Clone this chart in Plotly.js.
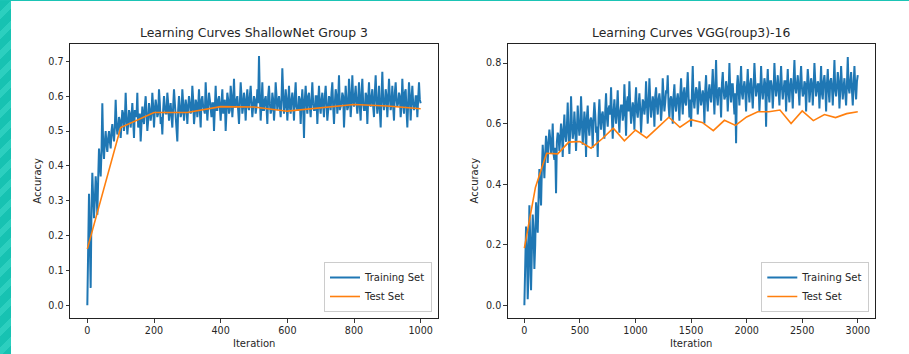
<!DOCTYPE html>
<html>
<head>
<meta charset="utf-8">
<script src="https://cdn.plot.ly/plotly-3.0.1.min.js"></script>
<style>
  html, body { margin: 0; padding: 0; width: 909px; height: 354px; overflow: hidden; background: #ffffff; }
  #stripeL { position: absolute; left: 0; top: 0; width: 11px; height: 354px;
    background: repeating-linear-gradient(135deg, #17c2b2 0px, #17c2b2 8px, #2ccfbf 8px, #2ccfbf 14px); }
  #stripeT { position: absolute; left: 0; top: 0; width: 909px; height: 1px; background: #1bc4b5; }
  #chart { position: absolute; left: 0; top: 0; width: 909px; height: 354px; }
</style>
</head>
<body>
<div id="stripeL"></div>
<div id="stripeT"></div>
<div id="chart"></div>
<script>
// ---------- Data ----------
const titleLeft = "Learning Curves ShallowNet Group 3";
const titleRight = "Learning Curves VGG(roup3)-16";
const xLabel = "Iteration";
const yLabel = "Accuracy";
const seriesNames = ["Training Set", "Test Set"];

// ShallowNet: training accuracy read at iterations 0,5,10,...,1000
const shallowTrainStep = 5;
const shallowTrain = [
  0.00,0.32,0.05,0.38,0.25,0.37,0.26,0.45,0.37,0.58,0.42,0.50,0.44,0.50,0.45,0.52,0.47,0.59,0.49,0.54,0.48,
  0.56,0.50,0.61,0.49,0.56,0.51,0.58,0.48,0.55,0.61,0.52,0.47,0.57,0.52,0.60,0.50,0.58,0.53,0.61,0.51,
  0.59,0.54,0.62,0.52,0.49,0.60,0.55,0.61,0.53,0.58,0.51,0.62,0.55,0.47,0.60,0.54,0.62,0.53,0.59,0.52,
  0.60,0.55,0.63,0.52,0.59,0.54,0.62,0.51,0.60,0.56,0.64,0.53,0.61,0.55,0.58,0.50,0.63,0.56,0.60,0.53,
  0.62,0.57,0.50,0.61,0.55,0.63,0.54,0.65,0.57,0.60,0.52,0.64,0.55,0.61,0.53,0.62,0.56,0.63,0.54,0.60,
  0.55,0.62,0.715,0.53,0.64,0.56,0.60,0.52,0.63,0.55,0.61,0.53,0.64,0.56,0.60,0.54,0.68,0.55,0.62,0.53,
  0.63,0.55,0.61,0.53,0.64,0.56,0.60,0.52,0.62,0.48,0.63,0.55,0.61,0.54,0.64,0.56,0.60,0.52,0.63,0.55,
  0.61,0.54,0.63,0.53,0.60,0.56,0.64,0.52,0.62,0.55,0.66,0.57,0.61,0.51,0.63,0.56,0.65,0.54,0.66,0.57,
  0.63,0.55,0.64,0.53,0.65,0.56,0.61,0.52,0.64,0.57,0.62,0.54,0.66,0.55,0.63,0.51,0.67,0.56,0.62,0.54,
  0.65,0.56,0.63,0.53,0.64,0.57,0.61,0.54,0.65,0.55,0.62,0.51,0.64,0.53,0.63,0.56,0.60,0.54,0.64,0.58
];
// ShallowNet: training accuracy read at the in-between iterations 2.5,7.5,...,997.5
const shallowTrainMid = [
  0.20,0.18,0.28,0.31,0.30,0.33,0.36,0.41,0.44,0.46,0.47,0.46,0.48,0.47,0.50,0.49,0.51,0.52,0.51,0.53,
  0.52,0.55,0.53,0.54,0.52,0.55,0.54,0.53,0.56,0.54,0.51,0.55,0.56,0.54,0.57,0.55,0.53,0.56,0.55,0.57,
  0.56,0.57,0.55,0.58,0.54,0.56,0.57,0.55,0.58,0.56,0.54,0.57,0.58,0.52,0.56,0.57,0.55,0.58,0.56,0.57,
  0.57,0.58,0.56,0.59,0.55,0.58,0.57,0.56,0.59,0.57,0.55,0.58,0.57,0.59,0.54,0.58,0.57,0.56,0.59,0.57,
  0.58,0.55,0.59,0.57,0.59,0.56,0.60,0.58,0.57,0.59,0.56,0.58,0.60,0.57,0.58,0.59,0.57,0.60,0.58,0.57,
  0.59,0.57,0.58,0.60,0.58,0.56,0.59,0.57,0.60,0.58,0.56,0.59,0.57,0.60,0.58,0.57,0.59,0.61,0.57,0.59,
  0.58,0.57,0.59,0.58,0.60,0.57,0.56,0.59,0.58,0.57,0.59,0.58,0.60,0.57,0.59,0.58,0.56,0.60,0.58,0.57,
  0.59,0.57,0.60,0.58,0.56,0.59,0.61,0.57,0.58,0.60,0.59,0.56,0.58,0.60,0.58,0.59,0.57,0.61,0.58,0.59,
  0.60,0.58,0.59,0.57,0.61,0.58,0.56,0.60,0.59,0.58,0.60,0.57,0.61,0.59,0.58,0.56,0.60,0.59,0.58,0.60,
  0.59,0.60,0.58,0.57,0.61,0.59,0.58,0.60,0.57,0.59,0.61,0.56,0.58,0.60,0.59,0.58,0.57,0.60,0.59,0.59
];
// ShallowNet: test accuracy every 100 iterations
const shallowTestIter = [0,100,200,300,400,500,600,700,800,900,1000];
const shallowTest = [0.162,0.510,0.553,0.553,0.570,0.569,0.557,0.567,0.576,0.572,0.564];

// VGG-16: training accuracy read at iterations 0,15,30,...,3000
const vggTrainStep = 15;
const vggTrain = [
  0.00,0.26,0.02,0.33,0.05,0.30,0.12,0.34,0.24,0.45,0.33,0.53,0.42,0.56,
  0.47,0.58,0.50,0.60,0.48,0.37,0.57,0.51,0.60,0.49,0.63,0.54,0.67,0.50,0.69,0.55,0.64,0.51,0.66,0.56,
  0.69,0.53,0.64,0.49,0.66,0.56,0.62,0.52,0.67,0.57,0.49,0.68,0.58,0.64,0.55,0.70,0.59,0.66,0.72,0.55,
  0.68,0.60,0.71,0.57,0.66,0.61,0.73,0.56,0.69,0.74,0.60,0.67,0.58,0.72,0.62,0.70,0.57,0.68,0.63,0.74,
  0.60,0.75,0.62,0.69,0.59,0.72,0.63,0.70,0.61,0.75,0.64,0.71,0.76,0.62,0.69,0.60,0.73,0.64,0.70,0.61,
  0.75,0.63,0.72,0.66,0.77,0.62,0.59,0.79,0.65,0.72,0.63,0.74,0.66,0.71,0.60,0.76,0.64,0.73,0.67,0.78,
  0.63,0.81,0.66,0.72,0.62,0.77,0.68,0.74,0.64,0.80,0.67,0.73,0.63,0.535,0.76,0.66,0.79,0.68,0.74,0.64,
  0.78,0.67,0.75,0.65,0.80,0.69,0.73,0.64,0.79,0.68,0.75,0.59,0.78,0.67,0.74,0.65,0.80,0.69,0.76,0.66,
  0.79,0.68,0.74,0.64,0.78,0.67,0.75,0.65,0.81,0.70,0.76,0.66,0.79,0.69,0.74,0.64,0.78,0.67,0.75,0.66,
  0.80,0.69,0.74,0.65,0.79,0.68,0.76,0.64,0.78,0.67,0.75,0.66,0.81,0.69,0.77,0.65,0.79,0.68,0.75,0.66,
  0.82,0.70,0.77,0.66,0.79,0.68,0.76
];
// VGG-16: training accuracy read at the in-between iterations 7.5,22.5,...,2992.5
const vggTrainMid = [
  0.15,0.20,0.10,0.22,0.18,0.25,0.20,0.30,0.35,0.38,0.45,0.48,0.50,
  0.52,0.54,0.55,0.53,0.50,0.52,0.54,0.56,0.55,0.57,0.58,0.56,0.59,0.57,0.58,0.60,0.57,0.59,0.58,0.60,
  0.59,0.61,0.58,0.60,0.62,0.59,0.61,0.60,0.62,0.63,0.59,0.62,0.61,0.63,0.60,0.64,0.62,0.65,0.63,0.62,
  0.64,0.63,0.65,0.62,0.64,0.66,0.63,0.65,0.67,0.64,0.66,0.63,0.65,0.67,0.64,0.66,0.65,0.63,0.67,0.66,
  0.67,0.66,0.68,0.65,0.67,0.69,0.66,0.68,0.67,0.65,0.69,0.67,0.70,0.66,0.68,0.67,0.69,0.66,0.68,0.67,
  0.69,0.68,0.70,0.67,0.71,0.69,0.68,0.70,0.68,0.69,0.71,0.67,0.70,0.68,0.69,0.71,0.68,0.70,0.69,0.72,
  0.70,0.72,0.69,0.71,0.70,0.73,0.71,0.69,0.72,0.70,0.71,0.73,0.68,0.70,0.72,0.71,0.73,0.70,0.72,0.71,
  0.72,0.71,0.73,0.70,0.72,0.74,0.71,0.73,0.70,0.72,0.71,0.73,0.72,0.70,0.74,0.72,0.71,0.73,0.72,0.71,
  0.73,0.72,0.71,0.74,0.72,0.70,0.73,0.71,0.74,0.72,0.73,0.71,0.74,0.72,0.70,0.73,0.72,0.74,0.71,0.73,
  0.72,0.74,0.71,0.73,0.72,0.70,0.74,0.72,0.73,0.71,0.74,0.72,0.73,0.71,0.72,0.74,0.71,0.73,0.72,0.70,
  0.73,0.72,0.74,0.71,0.73,0.72,0.74
];
// VGG-16: test accuracy every 100 iterations
const vggTestIter = [0,100,200,300,400,500,600,700,800,900,1000,1100,1200,1300,1400,1500,1600,1700,1800,1900,2000,2100,2200,2300,2400,2500,2600,2700,2800,2900,3000];
const vggTest = [0.189,0.390,0.502,0.500,0.539,0.541,0.519,0.550,0.585,0.543,0.579,0.553,0.587,0.621,0.588,0.613,0.604,0.577,0.611,0.594,0.622,0.639,0.639,0.645,0.600,0.642,0.610,0.630,0.620,0.633,0.639];

const xTicksLeft = [0,200,400,600,800,1000];
const yTicksLeft = [0.0,0.1,0.2,0.3,0.4,0.5,0.6,0.7];
const xTicksRight = [0,500,1000,1500,2000,2500,3000];
const yTicksRight = [0.0,0.2,0.4,0.6,0.8];

// ---------- Build ----------
// interleave the readings at step*i with the in-between readings at step*i + step/2
function merge(step, main, mid) {
  const xs = [], ys = [];
  for (let i = 0; i < main.length; i++) {
    xs.push(i * step); ys.push(main[i]);
    if (i < mid.length) { xs.push(i * step + step / 2); ys.push(mid[i]); }
  }
  return {x: xs, y: ys};
}
const sTrain = merge(shallowTrainStep, shallowTrain, shallowTrainMid);
const vTrain = merge(vggTrainStep, vggTrain, vggTrainMid);

const blue = "#1f77b4", orange = "#ff7f0e";
const txt = "#262626";
const font = "DejaVu Sans, sans-serif";

const traces = [
  {x: sTrain.x, y: sTrain.y, type: "scatter", mode: "lines",
   name: seriesNames[0], line: {color: blue, width: 2}, xaxis: "x", yaxis: "y", legend: "legend"},
  {x: shallowTestIter, y: shallowTest, type: "scatter", mode: "lines",
   name: seriesNames[1], line: {color: orange, width: 1.6}, xaxis: "x", yaxis: "y", legend: "legend"},
  {x: vTrain.x, y: vTrain.y, type: "scatter", mode: "lines",
   name: seriesNames[0], line: {color: blue, width: 2}, xaxis: "x2", yaxis: "y2", legend: "legend2"},
  {x: vggTestIter, y: vggTest, type: "scatter", mode: "lines",
   name: seriesNames[1], line: {color: orange, width: 1.6}, xaxis: "x2", yaxis: "y2", legend: "legend2"}
];

const W = 909, H = 354;
const yDom = [(H - 318) / H, (H - 44) / H];
const axBase = {
  showgrid: false, zeroline: false, showline: true, mirror: true,
  linecolor: "#222", linewidth: 1, ticks: "outside", ticklen: 3.5, tickwidth: 0.9, tickcolor: "#222",
  tickfont: {family: font, size: 9.6, color: txt}
};

const legendBase = {
  bgcolor: "rgba(255,255,255,0.85)", bordercolor: "#cccccc", borderwidth: 1,
  font: {family: font, size: 10, color: txt}, xanchor: "right", yanchor: "bottom",
  tracegroupgap: 0, itemwidth: 30
};

const layout = {
  width: W, height: H,
  margin: {l: 0, r: 0, t: 0, b: 0},
  paper_bgcolor: "rgba(0,0,0,0)", plot_bgcolor: "#ffffff",
  showlegend: true,
  xaxis: Object.assign({}, axBase, {domain: [70 / W, 438 / W], range: [-52, 1052], tickvals: xTicksLeft, anchor: "y"}),
  yaxis: Object.assign({}, axBase, {domain: yDom, range: [-0.0364, 0.7497], tickvals: yTicksLeft, tickformat: ".1f", anchor: "x"}),
  xaxis2: Object.assign({}, axBase, {domain: [507.7 / W, 875 / W], range: [-150, 3155], tickvals: xTicksRight, anchor: "y2"}),
  yaxis2: Object.assign({}, axBase, {domain: yDom, range: [-0.042, 0.863], tickvals: yTicksRight, tickformat: ".1f", anchor: "x2"}),
  legend: Object.assign({}, legendBase, {x: 432 / W, y: (H - 312) / H}),
  legend2: Object.assign({}, legendBase, {x: 869.3 / W, y: (H - 312) / H}),
  annotations: [
    {text: titleLeft, xref: "paper", yref: "paper", x: 254 / W, y: (H - 33) / H, xanchor: "center", yanchor: "middle",
     showarrow: false, font: {family: font, size: 12.4, color: txt}},
    {text: titleRight, xref: "paper", yref: "paper", x: 691.4 / W, y: (H - 33) / H, xanchor: "center", yanchor: "middle",
     showarrow: false, font: {family: font, size: 12.4, color: txt}},
    {text: xLabel, xref: "paper", yref: "paper", x: 254 / W, y: (H - 343) / H, xanchor: "center", yanchor: "middle",
     showarrow: false, font: {family: font, size: 10, color: txt}},
    {text: xLabel, xref: "paper", yref: "paper", x: 691 / W, y: (H - 343) / H, xanchor: "center", yanchor: "middle",
     showarrow: false, font: {family: font, size: 10, color: txt}},
    {text: yLabel, xref: "paper", yref: "paper", x: 36.7 / W, y: (H - 181) / H, xanchor: "center", yanchor: "middle",
     textangle: -90, showarrow: false, font: {family: font, size: 10, color: txt}},
    {text: yLabel, xref: "paper", yref: "paper", x: 473.5 / W, y: (H - 181) / H, xanchor: "center", yanchor: "middle",
     textangle: -90, showarrow: false, font: {family: font, size: 10, color: txt}}
  ]
};

Plotly.newPlot("chart", traces, layout, {staticPlot: true, displayModeBar: false});
</script>
</body>
</html>
